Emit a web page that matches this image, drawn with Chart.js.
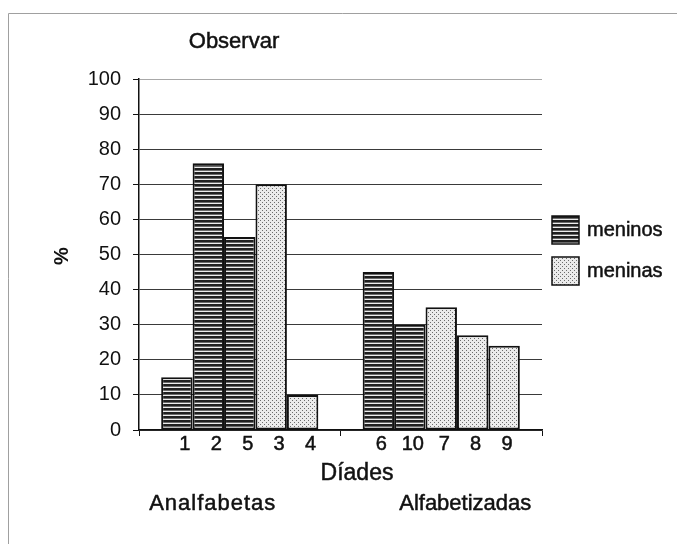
<!DOCTYPE html>
<html>
<head>
<meta charset="utf-8">
<script src="https://cdn.jsdelivr.net/npm/chart.js@4.4.1/dist/chart.umd.min.js"></script>
<style>
  html, body { margin: 0; padding: 0; background: #fff; }
  #wrap { width: 677px; height: 544px; position: relative; }
</style>
</head>
<body>
<div id="wrap"><canvas id="c" width="677" height="544"></canvas></div>
<script>
// Groups of dyads and the percentage observed for each dyad
const groups = ['Analfabetas', 'Alfabetizadas'];

const dyadsAnalfabetas = ['1', '2', '5', '3', '4'];
const valuesAnalfabetas = [15, 76, 55, 70, 10];
const sexAnalfabetas = ['meninos', 'meninos', 'meninos', 'meninas', 'meninas'];

const dyadsAlfabetizadas = ['6', '10', '7', '8', '9'];
const valuesAlfabetizadas = [45, 30, 35, 27, 24];
const sexAlfabetizadas = ['meninos', 'meninos', 'meninas', 'meninas', 'meninas'];

const legendSeries = ['meninos', 'meninas'];
const yMin = 0, yMax = 100, yStep = 10;

const FONT = "'Liberation Sans', Arial, sans-serif";

// Fill patterns: horizontal stripes for boys, fine dots for girls
function stripePattern() {
  const t = document.createElement('canvas');
  t.width = 4; t.height = 4;
  const g = t.getContext('2d');
  g.fillStyle = '#ececec'; g.fillRect(0, 0, 4, 4);
  g.fillStyle = '#1f1f1f'; g.fillRect(0, 0, 4, 2);
  g.fillStyle = '#6a6a6a'; g.fillRect(0, 2, 4, 1);
  return g.createPattern(t, 'repeat');
}
function dotPattern() {
  const t = document.createElement('canvas');
  t.width = 4; t.height = 4;
  const g = t.getContext('2d');
  g.fillStyle = '#ebebeb'; g.fillRect(0, 0, 4, 4);
  g.fillStyle = '#6c6c6c';
  g.fillRect(0, 0, 1, 1);
  g.fillRect(2, 2, 1, 1);
  return g.createPattern(t, 'repeat');
}
const fills = { meninos: stripePattern(), meninas: dotPattern() };

// One dataset per bar position inside each group
const datasets = dyadsAnalfabetas.map((_, i) => ({
  label: dyadsAnalfabetas[i] + '/' + dyadsAlfabetizadas[i],
  data: [valuesAnalfabetas[i], valuesAlfabetizadas[i]],
  backgroundColor: [fills[sexAnalfabetas[i]], fills[sexAlfabetizadas[i]]],
  borderColor: '#111',
  borderWidth: 2,
  borderSkipped: false,
  categoryPercentage: 0.78,
  barPercentage: 1.0
}));
const dyadLabels = [dyadsAnalfabetas, dyadsAlfabetizadas];

// Draws text with a faint outline so it reads a little heavier
function heavyText(ctx, text, x, y) {
  ctx.lineWidth = 0.5;
  ctx.strokeStyle = '#111';
  ctx.strokeText(text, x, y);
  ctx.fillText(text, x, y);
}

// Free text, legend, frame and plot borders
const decorations = {
  id: 'decorations',
  afterDraw(chart) {
    const ctx = chart.ctx;
    const a = chart.chartArea;
    ctx.save();

    // outer frame (top and left edges)
    ctx.strokeStyle = '#a0a0a0';
    ctx.lineWidth = 1;
    ctx.beginPath();
    ctx.moveTo(8.5, 544); ctx.lineTo(8.5, 13.5); ctx.lineTo(677, 13.5);
    ctx.stroke();

    ctx.fillStyle = '#111';
    ctx.textBaseline = 'middle';
    ctx.textAlign = 'center';

    // title
    ctx.font = '22px ' + FONT;
    heavyText(ctx, 'Observar', 234, 42);

    // y axis title
    ctx.save();
    ctx.translate(62, 256);
    ctx.rotate(-Math.PI / 2);
    ctx.font = 'bold 20px ' + FONT;
    ctx.fillText('%', 0, 0);
    ctx.restore();

    // dyad numbers under each bar
    ctx.font = '20px ' + FONT;
    const shift = [8, 3];
    chart.data.datasets.forEach((ds, i) => {
      const meta = chart.getDatasetMeta(i);
      meta.data.forEach((bar, g) => {
        heavyText(ctx, dyadLabels[g][i], bar.x + shift[g], a.bottom + 14);
      });
    });

    // axis title and group names
    ctx.font = '23px ' + FONT;
    heavyText(ctx, 'Díades', 357, 474);
    const xs = chart.scales.x;
    ctx.font = '22px ' + FONT;
    ctx.letterSpacing = '1px';
    heavyText(ctx, groups[0], xs.getPixelForValue(0) - 27, 504);
    ctx.letterSpacing = '0px';
    heavyText(ctx, groups[1], xs.getPixelForValue(1) + 24, 504);

    // legend
    ctx.textAlign = 'left';
    ctx.font = '20px ' + FONT;
    legendSeries.forEach((name, k) => {
      const y = 216 + k * 41;
      ctx.fillStyle = fills[name];
      ctx.fillRect(552, y, 27, 28);
      ctx.strokeStyle = '#111';
      ctx.lineWidth = 1.5;
      ctx.strokeRect(552, y, 27, 28);
      ctx.fillStyle = '#111';
      heavyText(ctx, name, 587, y + 14);
    });

    ctx.restore();
  }
};

new Chart(document.getElementById('c'), {
  type: 'bar',
  data: { labels: groups, datasets },
  options: {
    responsive: false,
    animation: false,
    events: [],
    layout: { padding: { left: 0, top: 79, right: 135, bottom: 0 } },
    plugins: { legend: { display: false }, tooltip: { enabled: false } },
    scales: {
      x: {
        offset: true,
        grid: {
          offset: true,
          drawOnChartArea: true,
          color: (c) => (c.index === 2 ? '#a8a8a8' : 'rgba(0,0,0,0)'),
          tickColor: '#111',
          tickLength: 6,
          lineWidth: 1
        },
        border: { color: '#111', width: 1.5 },
        ticks: { display: false },
        afterFit(s) { s.height = 114; }
      },
      y: {
        min: yMin,
        max: yMax,
        ticks: {
          stepSize: yStep,
          color: '#111',
          padding: 12,
          font: { family: FONT, size: 20 }
        },
        grid: {
          color: (c) => (c.tick && c.tick.value === yMax ? '#a8a8a8' : '#3a3a3a'),
          tickColor: '#111',
          tickLength: 6,
          lineWidth: 1
        },
        border: { color: '#111', width: 1.5 },
        afterFit(s) { s.width = 139; }
      }
    }
  },
  plugins: [decorations]
});
</script>
</body>
</html>
